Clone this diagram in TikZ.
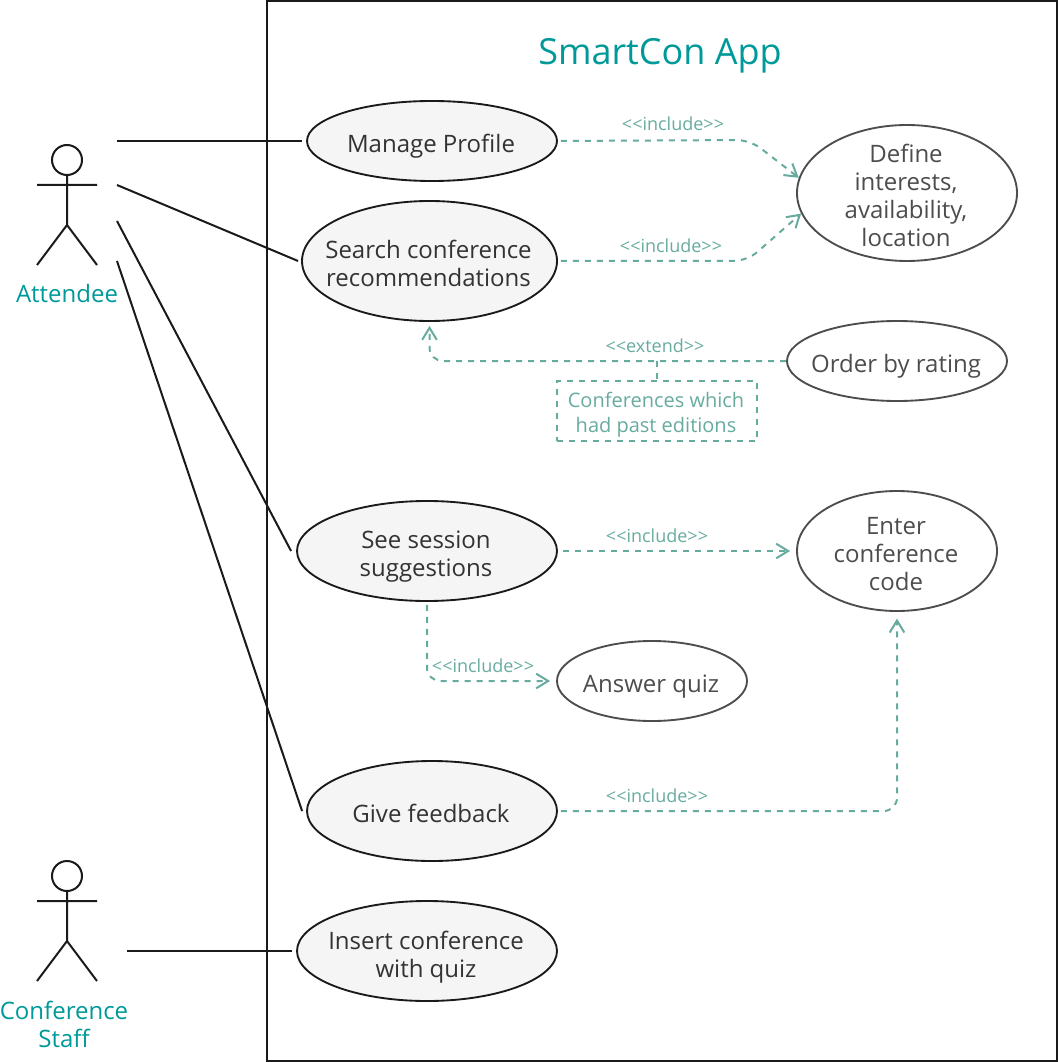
\documentclass[tikz,border=0pt]{standalone}
\usepackage{fontspec}
\setmainfont{Open Sans}
\usetikzlibrary{arrows.meta,shapes.geometric}
\definecolor{teal1}{HTML}{009999}
\definecolor{green1}{HTML}{67AB9F}
\definecolor{dark1}{HTML}{1A1A1A}
\definecolor{gray1}{HTML}{4D4D4D}
\definecolor{fill1}{HTML}{F5F5F5}

\begin{document}
\begin{tikzpicture}[x=0.75pt,y=-0.75pt,line width=1.5pt,
  >={Straight Barb[length=9pt,width=11pt,line width=1.5pt]},
  every label/.style={align=center,xshift=-0.75pt,font=\fontsize{18}{21}\selectfont},
  ucsize/.style 2 args={minimum width=#1*0.75pt,minimum height=#2*0.75pt},
  usecase/.style 2 args={ellipse,draw=dark1,fill=fill1,line width=1.4pt,inner sep=0pt,label={[text=black!80,yshift=-#2*0.75pt]center:#1}},
  usecasew/.style 2 args={ellipse,draw=gray1,fill=white,line width=1.4pt,inner sep=0pt,label={[text=gray1,yshift=-#2*0.75pt]center:#1}},
  assoc/.style={draw=dark1},
  dep/.style={draw=green1,dash pattern=on 4.5pt off 4.5pt,rounded corners=10pt,->,shorten <=2.25pt,shorten >=3pt},
  stereo/.style={text=green1,font=\fontsize{13.5}{16}\selectfont},
  actorname/.style={text=teal1,align=center,font=\fontsize{18}{21}\selectfont},
  actor/.pic={
    \draw[dark1] (0,-15) circle[radius=15];
    \draw[dark1] (0,0) -- (0,50) (-30,10) -- (30,10) (-30,90) -- (0,50) -- (30,90);
  }]
\useasboundingbox (0,0) rectangle (1060,1062);

\node[draw=dark1,minimum width=592.5pt,minimum height=795pt,inner sep=0pt] (app) at (662,531) {};
\node[text=teal1,font=\fontsize{27}{32}\selectfont] (title) at (660,56) {SmartCon App};

% use cases
\node[usecase={Manage Profile}{5},ucsize={250}{80}] (profile) at (432,141) {};
\node[usecase={Search conference\\recommendations}{2},ucsize={255}{120}] (search) at (429.5,261) {};
\node[usecase={See session\\suggestions}{6},ucsize={260}{100}] (session) at (427,551) {};
\node[usecase={Give feedback}{2},ucsize={250}{100}] (feedback) at (432,811) {};
\node[usecase={Insert conference\\with quiz}{6},ucsize={260}{100}] (insert) at (427,951) {};
\node[usecasew={Define\\interests,\\availability,\\location}{2},ucsize={220}{136}] (interests) at (907,193) {};
\node[usecasew={Order by rating}{5},ucsize={220}{80}] (rating) at (897,361) {};
\node[usecasew={Enter\\conference\\code}{3},ucsize={200}{120}] (code) at (897,551) {};
\node[usecasew={Answer quiz}{6},ucsize={190}{80}] (quiz) at (652,681) {};

% actors
\pic at (67,175) {actor};
\pic at (67,891) {actor};
\node[actorname] (attendee) at (67,293) {Attendee};
\node[actorname] (staff) at (64,1024) {Conference\\Staff};
\coordinate (a1) at (117,141);
\coordinate (a2) at (117,185);
\coordinate (a3) at (117,221);
\coordinate (a4) at (117,261);
\coordinate (s1) at (127,951);

\draw[assoc] (a1) -- ([xshift=-3pt]profile.west);
\draw[assoc] (a2) -- ([xshift=-2.25pt]search.west);
\draw[assoc] (a3) -- ([xshift=-3.75pt]session.west);
\draw[assoc] (a4) -- ([xshift=-3pt]feedback.west);
\draw[assoc] (s1) -- ([xshift=-3pt]insert.west);

% includes
\draw[dep,shorten >=0pt] (profile.east) -- (750,140) -- (interests.172);
\draw[dep,shorten >=0pt] (search.east) -- (747,261) -- (interests.191);
\draw[dep,shorten <=3.75pt,shorten >=4.5pt] (session.east) -- (code.west);
\draw[dep,shorten >=4.5pt] (session.south) |- (quiz.west);
\draw[dep,shorten >=5pt] (feedback.east) -| (code.south);
\draw[dep,shorten <=0pt] (rating.west) -| (search.south);

\node[stereo] (lbl1) at (673,124) {<{}<include>{}>};
\node[stereo] (lbl2) at (671,246) {<{}<include>{}>};
\node[stereo] (lbl3) at (655,346) {<{}<extend>{}>};
\node[stereo] (lbl4) at (657,536) {<{}<include>{}>};
\node[stereo] (lbl5) at (483,666) {<{}<include>{}>};
\node[stereo] (lbl6) at (657,796) {<{}<include>{}>};

% note
\node[draw=green1,dash pattern=on 4.5pt off 4.5pt,inner sep=0pt,ucsize={200}{60},
  label={[text=green1,yshift=-3pt,font=\fontsize{15}{18.75}\selectfont]center:Conferences which\\had past editions}] (note) at (657,411) {};
\coordinate (notejoin) at (note.north|-rating.west);
\draw[draw=green1,dash pattern=on 4.5pt off 4.5pt] (notejoin) -- (note.north);
\end{tikzpicture}
\end{document}
